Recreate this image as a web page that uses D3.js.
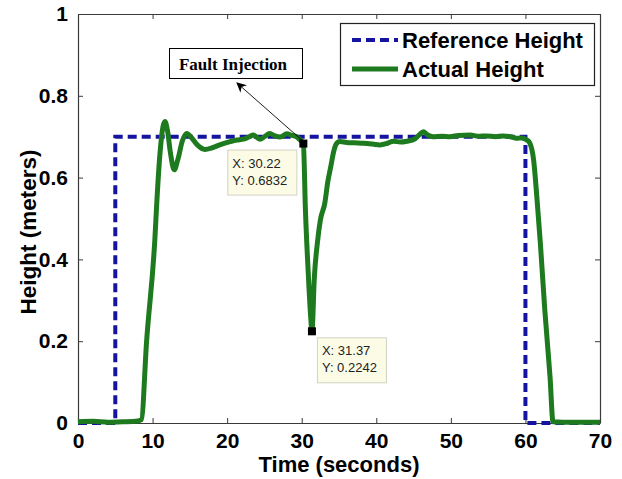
<!DOCTYPE html>
<html>
<head>
<meta charset="utf-8">
<script src="https://cdn.jsdelivr.net/npm/d3@7"></script>
<style>
  html, body { margin: 0; padding: 0; background: #ffffff; }
  svg { display: block; }
</style>
</head>
<body>
<svg id="chart" width="622" height="479"></svg>
<script>
// Tank level experiment: setpoint versus measured height with a fault at ~30 s
const refTime   = [0, 5, 5, 60, 60, 70];
const refHeight = [0, 0, 0.7, 0.7, 0, 0];

const actTime = [0, 2, 4, 6, 8, 8.5, 9.2, 10.3, 10.6, 11.0, 11.4, 11.67, 12.0, 12.4, 12.9, 13.4, 14.0, 14.6,
  15.2, 16.0, 17.0, 18.0, 19.0, 20.4, 21.3, 22.2, 23.0, 23.5, 24.4, 25.0, 25.7, 26.4, 27.1, 28.0, 28.7, 29.3,
  29.8, 30.22, 30.5, 30.9, 31.2, 31.37, 31.7, 32.1, 32.5, 33.1, 33.5, 33.9, 34.3, 34.7, 35.1, 36.0, 37.0,
  38.3, 39.5, 40.5, 41.5, 42.3, 43.2, 44.1, 45.2, 45.8, 46.3, 46.9, 47.6, 48.8, 49.9, 51.0, 52.6, 53.7, 54.8,
  56.0, 57.0, 58.0, 58.8, 59.5, 60.2, 60.6, 61.1, 61.5, 62.0, 62.6, 63.3, 63.7, 65, 67, 70];
const actHeight = [0.003, 0.004, 0.002, 0.003, 0.005, 0.008, 0.2, 0.447, 0.55, 0.66, 0.725, 0.737, 0.715, 0.66,
  0.619, 0.645, 0.69, 0.708, 0.698, 0.68, 0.669, 0.673, 0.680, 0.688, 0.692, 0.694, 0.700, 0.704, 0.694, 0.700,
  0.708, 0.702, 0.699, 0.707, 0.703, 0.700, 0.692, 0.6832, 0.52, 0.358, 0.26, 0.2242, 0.358, 0.44, 0.496, 0.538,
  0.59, 0.627, 0.665, 0.684, 0.688, 0.686, 0.685, 0.684, 0.682, 0.680, 0.684, 0.689, 0.687, 0.689, 0.695, 0.705,
  0.712, 0.704, 0.700, 0.701, 0.700, 0.703, 0.704, 0.701, 0.702, 0.700, 0.702, 0.700, 0.696, 0.697, 0.692, 0.684,
  0.643, 0.56, 0.44, 0.276, 0.113, 0.003, 0.002, 0.002, 0.002];

const xTicks = [0, 10, 20, 30, 40, 50, 60, 70];
const yTicks = [0, 0.2, 0.4, 0.6, 0.8, 1];
const yTickLabels = ["0", "0.2", "0.4", "0.6", "0.8", "1"];

// Data tips: [time, height]
const tips = [[30.22, 0.6832], [31.37, 0.2242]];
const legendLabels = ["Reference Height", "Actual Height"];
const annotationText = "Fault Injection";

const svg = d3.select("#chart");
const plotLeft = 78, plotRight = 600, plotTop = 14, plotBottom = 423;
const x = d3.scaleLinear().domain([0, 70]).range([plotLeft, plotRight]);
const y = d3.scaleLinear().domain([0, 1]).range([plotBottom, plotTop]);

const axisColor = "#3a3a3a";
const blue = "#1414a0";
const green = "#1e7a1e";
const sans = "'Liberation Sans', Arial, sans-serif";

// Axes with inward ticks on all four sides
function styleAxis(g) {
  g.select(".domain").attr("stroke", axisColor).attr("stroke-width", 1.2);
  g.selectAll(".tick line").attr("stroke", axisColor).attr("stroke-width", 1);
}
const gx = svg.append("g").attr("transform", `translate(0,${plotBottom})`)
  .call(d3.axisBottom(x).tickValues(xTicks).tickSizeInner(-5).tickSizeOuter(0).tickPadding(10).tickFormat(d3.format("d")));
styleAxis(gx);
gx.selectAll("text").attr("font-family", sans).attr("font-weight", "bold").attr("font-size", 21).attr("fill", "#000");

const gxTop = svg.append("g").attr("transform", `translate(0,${plotTop})`)
  .call(d3.axisTop(x).tickValues(xTicks).tickSizeInner(-5).tickSizeOuter(0).tickFormat(""));
styleAxis(gxTop);

const gy = svg.append("g").attr("transform", `translate(${plotLeft},0)`)
  .call(d3.axisLeft(y).tickValues(yTicks).tickSizeInner(-5).tickSizeOuter(0).tickPadding(10)
    .tickFormat((d, i) => yTickLabels[i]));
styleAxis(gy);
gy.selectAll("text").attr("font-family", sans).attr("font-weight", "bold").attr("font-size", 21).attr("fill", "#000");

const gyRight = svg.append("g").attr("transform", `translate(${plotRight},0)`)
  .call(d3.axisRight(y).tickValues(yTicks).tickSizeInner(-5).tickSizeOuter(0).tickFormat(""));
styleAxis(gyRight);

// Axis titles
svg.append("text").attr("x", 339).attr("y", 472).attr("text-anchor", "middle")
  .attr("font-family", sans).attr("font-weight", "bold").attr("font-size", 22).text("Time (seconds)");
svg.append("text").attr("transform", "translate(36,232) rotate(-90)").attr("text-anchor", "middle")
  .attr("font-family", sans).attr("font-weight", "bold").attr("font-size", 22.5).text("Height (meters)");

// Series
const plot = svg.append("g");
const refLine = d3.line().x((d, i) => x(refTime[i])).y(d => y(d));
plot.append("path").datum(refHeight).attr("d", refLine)
  .attr("fill", "none").attr("stroke", blue).attr("stroke-width", 4).attr("stroke-dasharray", "9,5");

const actLine = d3.line().x((d, i) => x(actTime[i])).y(d => y(d)).curve(d3.curveMonotoneX);
plot.append("path").datum(actHeight).attr("d", actLine)
  .attr("fill", "none").attr("stroke", green).attr("stroke-width", 5).attr("stroke-linejoin", "round");

// Annotation box with arrow pointing from first data tip
const defs = svg.append("defs");
defs.append("marker").attr("id", "arrowHead").attr("viewBox", "0 0 10 10")
  .attr("refX", 9).attr("refY", 5).attr("markerWidth", 10).attr("markerHeight", 10)
  .attr("orient", "auto-start-reverse").attr("markerUnits", "userSpaceOnUse")
  .append("path").attr("d", "M0,0 L10,5 L0,10 L3,5 Z").attr("fill", "#000");

const tip0 = tips[0];
svg.append("line").attr("x1", x(tip0[0]) - 1).attr("y1", y(tip0[1]) - 3)
  .attr("x2", 237).attr("y2", 83).attr("stroke", "#000").attr("stroke-width", 0.9)
  .attr("marker-end", "url(#arrowHead)");

svg.append("rect").attr("x", 169.5).attr("y", 48.5).attr("width", 133).attr("height", 30)
  .attr("fill", "#fff").attr("stroke", "#000").attr("stroke-width", 1);
svg.append("text").attr("x", 233).attr("y", 70).attr("text-anchor", "middle")
  .attr("font-family", "'Liberation Serif', 'Times New Roman', serif").attr("font-weight", "bold")
  .attr("font-size", 17).text(annotationText);

// Data tips: marker squares and label boxes
const tipBoxes = [{dx: -76, dy: 6}, {dx: 5, dy: 6}];
tips.forEach((t, i) => {
  const px = x(t[0]), py = y(t[1]);
  const b = tipBoxes[i];
  const g = svg.append("g");
  g.append("rect").attr("x", px + b.dx + 0.5).attr("y", py + b.dy + 0.5).attr("width", 69).attr("height", 45)
    .attr("fill", "#fcfce6").attr("stroke", "#d2d2c4").attr("stroke-width", 1);
  g.append("text").attr("x", px + b.dx + 5).attr("y", py + b.dy + 18)
    .attr("font-family", sans).attr("font-size", 13).attr("fill", "#222")
    .text("X: " + t[0].toFixed(2));
  g.append("text").attr("x", px + b.dx + 5).attr("y", py + b.dy + 35)
    .attr("font-family", sans).attr("font-size", 13).attr("fill", "#222")
    .text("Y: " + t[1].toFixed(4));
  svg.append("rect").attr("x", px - 4).attr("y", py - 4).attr("width", 8).attr("height", 8).attr("fill", "#000");
});

// Legend
const lg = svg.append("g");
lg.append("rect").attr("x", 340.5).attr("y", 23.5).attr("width", 254).attr("height", 62)
  .attr("fill", "#fff").attr("stroke", "#222").attr("stroke-width", 1.2);
const legendStyles = [
  {stroke: blue, width: 4, dash: "9,5"},
  {stroke: green, width: 5, dash: null}
];
legendLabels.forEach((label, i) => {
  const cy = 40 + i * 29;
  const s = legendStyles[i];
  lg.append("line").attr("x1", 352).attr("x2", 398).attr("y1", cy).attr("y2", cy)
    .attr("stroke", s.stroke).attr("stroke-width", s.width).attr("stroke-dasharray", s.dash);
  lg.append("text").attr("x", 402).attr("y", cy + 7.5).attr("font-family", sans).attr("font-weight", "bold")
    .attr("font-size", 22).text(label);
});
</script>
</body>
</html>
